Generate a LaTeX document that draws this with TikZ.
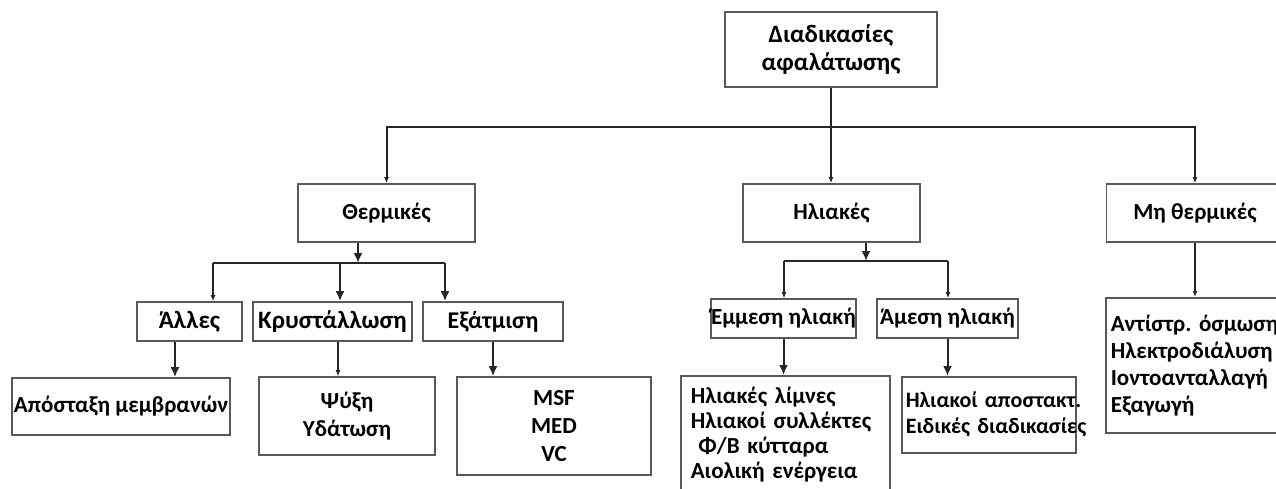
\documentclass[tikz,border=0pt]{standalone}
\usepackage{fontspec}
\setmainfont{Carlito}
\usetikzlibrary{arrows.meta}

\tikzset{
	box/.style={draw=black!65, line width=0.8pt, rectangle, inner sep=0pt,
		font=\fontsize{11.5}{14}\selectfont\bfseries},
	lbox/.style={box, align=left, anchor=north west, inner xsep=2.5pt},
	link/.style={draw=black!85, line width=1pt},
	arr/.style={-{Latex[length=5pt,width=4.5pt]}},
	arrf/.style={-{Latex[length=3pt,width=2.5pt]}}
}

\begin{document}
\frenchspacing
\begin{tikzpicture}
	[x=0.5pt,y=-0.5pt]
	\useasboundingbox (0,0) rectangle (1276,488);
	\node[box, align=center, font=\fontsize{12.5}{14}\selectfont\bfseries, minimum width=106pt, minimum height=37.5pt] (top) at (831,49.5) {Διαδικασίες\\αφαλάτωσης};
	
	\node[box, minimum width=88.5pt, minimum height=29pt] (therm) at (386.5,213) {Θερμικές};
	\node[box, minimum width=88.5pt, minimum height=29pt] (hliak) at (831.5,213) {Ηλιακές};
	\node[box, minimum width=88.5pt, minimum height=29pt] (mh) at (1195,213) {Μη θερμικές};
	
	\node[box, font=\fontsize{12.5}{14}\selectfont\bfseries, minimum width=52.5pt, minimum height=19.5pt] (alles) at (189.5,321.5) {Άλλες};
	\node[box, font=\fontsize{12.5}{14}\selectfont\bfseries, minimum width=79.5pt, minimum height=19.5pt] (kryst) at (332.5,321.5) {Κρυστάλλωση};
	\node[box, font=\fontsize{12}{14}\selectfont\bfseries, minimum width=70pt, minimum height=19.5pt] (exat) at (493,321.5) {Εξάτμιση};
	\node[box, minimum width=70.5pt, minimum height=19.5pt] (emm) at (783.5,318.5) {Έμμεση ηλιακή};
	\node[box, minimum width=70.5pt, minimum height=19.5pt] (ames) at (947.5,318.5) {Άμεση ηλιακή};
	
	\node[box, minimum width=109pt, minimum height=28.5pt] (apost) at (121,406.5) {Απόσταξη μεμβρανών};
	\node[box, align=center, minimum width=88pt, minimum height=39pt] (psyxi) at (347,416) {Ψύξη\\Υδάτωση};
	\node[box, align=center, minimum width=97pt, minimum height=49pt] (msf) at (554,426) {MSF\\MED\\VC};
	\node[lbox, font=\fontsize{11.5}{12.5}\selectfont\bfseries, inner xsep=5pt, text width=94.5pt, minimum height=58.5pt] (limnes) at (680,375) {Ηλιακές~λίμνες\\Ηλιακοί~συλλέκτες\\\ Φ/Β~κύτταρα\\Αιολική~ενέργεια};
	\node[lbox, font=\fontsize{11}{13}\selectfont\bfseries, inner xsep=2pt, text width=83pt, minimum height=38pt] (hlapost) at (901,376) {Ηλιακοί~αποστακτ.\\Ειδικές~διαδικασίες};
	\node[lbox, font=\fontsize{11.5}{13.5}\selectfont\bfseries, text width=100pt, minimum height=67.5pt] (mhbox) at (1105,297) {Αντίστρ.~όσμωση\\Ηλεκτροδιάλυση\\Ιοντοανταλλαγή\\Εξαγωγή};
	
	% junctions and drop points
	\coordinate (j0) at (831,127);
	\coordinate (j1) at (358,263);
	\coordinate (j2) at (866,261);
	\coordinate (a1) at (213,263);
	\coordinate (a2) at (340,263);
	\coordinate (a3) at (445,263);
	\coordinate (e1) at (784,261);
	\coordinate (e2) at (948,261);
	\coordinate (x1) at (175,0);
	\coordinate (x2) at (338,0);
	\coordinate (x3) at (1195,0);
	
	\draw[link,arrf] (top.south) -- (top.south |- hliak.north);
	\foreach \to in {therm,mh}
	\draw[link,arrf] (j0) -| (\to.north);
	
	\draw[link,arr] (therm.south -| j1) -- (j1);
	\draw[link] (a1) -- (a3);
	\foreach \from/\to/\tip in {a1/alles/arrf,a2/kryst/arr,a3/exat/arr}
	\draw[link,\tip] (\from) -- (\from |- \to.north);
	
	\draw[link,arr] (alles.south -| x1) -- (x1 |- apost.north);
	\draw[link,arrf] (kryst.south -| x2) -- (x2 |- psyxi.north);
	\draw[link,arr] (exat.south) -- (exat.south |- msf.north);
	
	\draw[link,arr] (hliak.south -| j2) -- (j2);
	\draw[link] (e1) -- (e2);
	\foreach \from/\to in {e1/emm,e2/ames}
	\draw[link,arrf] (\from) -- (\from |- \to.north);
	
	\draw[link,arr] (emm.south) -- (emm.south |- limnes.north);
	\draw[link,arr] (ames.south) -- (ames.south |- hlapost.north);
	\draw[link,arrf] (mh.south -| x3) -- (x3 |- mhbox.north);
\end{tikzpicture}
\end{document}
